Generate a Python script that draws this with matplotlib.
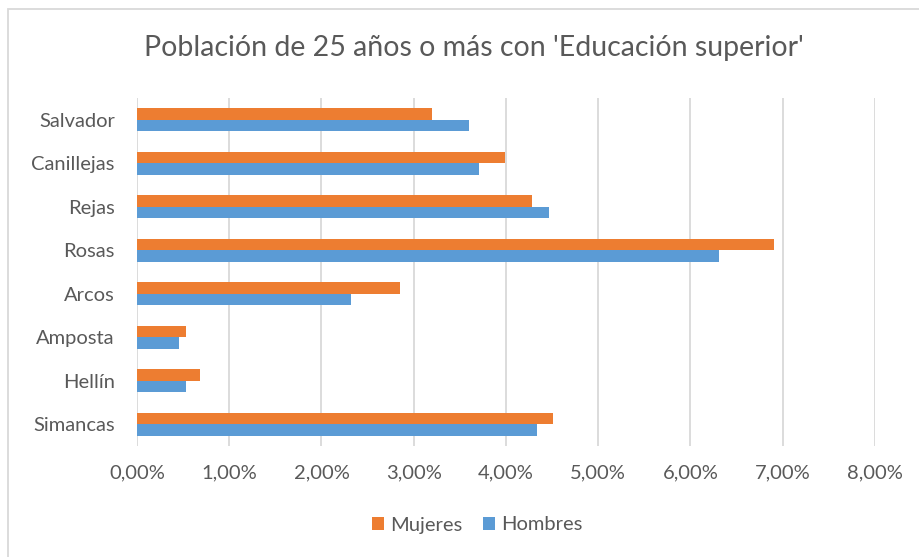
import numpy as np
import matplotlib.pyplot as plt
from matplotlib.patches import Rectangle
from matplotlib.ticker import FuncFormatter

# datos (de abajo hacia arriba, como en Excel)
barrios = ['Simancas', 'Hellín', 'Amposta', 'Arcos', 'Rosas', 'Rejas', 'Canillejas', 'Salvador']
mujeres = [4.51, 0.68, 0.53, 2.85, 6.90, 4.28, 3.99, 3.20]
hombres = [4.34, 0.53, 0.45, 2.32, 6.31, 4.47, 3.71, 3.60]

naranja = '#ED7D31'
azul = '#5B9BD5'
gris_texto = '#595959'

plt.rcParams['font.family'] = ['Lato', 'DejaVu Sans']

fig = plt.figure(figsize=(9.2, 5.57), dpi=100)
ax = fig.add_axes([137/920, 1 - 446/557, (875 - 137)/920, (446 - 98)/557])

y = np.arange(len(barrios))
h = 0.27
ax.barh(y - h/2, hombres, height=h, color=azul, label='Hombres', zorder=3)
ax.barh(y + h/2, mujeres, height=h, color=naranja, label='Mujeres', zorder=3)

ax.set_xlim(0, 8)
ax.set_ylim(-0.5, len(barrios) - 0.5)
ax.set_xticks(range(0, 9))
ax.xaxis.set_major_formatter(FuncFormatter(lambda v, p: f'{v:.2f}%'.replace('.', ',')))
ax.set_yticks(y)
ax.set_yticklabels(barrios)
ax.tick_params(axis='both', length=0, colors=gris_texto, labelsize=14.5)
ax.tick_params(axis='x', pad=13)
ax.tick_params(axis='y', pad=16)
ax.grid(axis='x', color='#d9d9d9', linewidth=1.3, zorder=0)
for s in ax.spines.values():
    s.set_visible(False)

fig.text(474/920, 1 - 48/557, "Población de 25 años o más con 'Educación superior'",
         ha='center', va='center', fontsize=20.5, color=gris_texto)

handles, labels = ax.get_legend_handles_labels()
fig.legend(handles[::-1], labels[::-1], loc='center', bbox_to_anchor=(477/920, 1 - 525/557),
           ncol=2, frameon=False, fontsize=14.5, labelcolor=gris_texto,
           handlelength=0.6, handleheight=0.6, handletextpad=0.3, columnspacing=1.0)

# borde del gráfico (recortado a derecha y abajo)
fig.patches.append(Rectangle((8/920, -0.05), 1.1, 1 - 9/557 + 0.05, transform=fig.transFigure,
                             fill=False, edgecolor='#d9d9d9', linewidth=1.3))

fig.savefig('out.png', dpi=100)
